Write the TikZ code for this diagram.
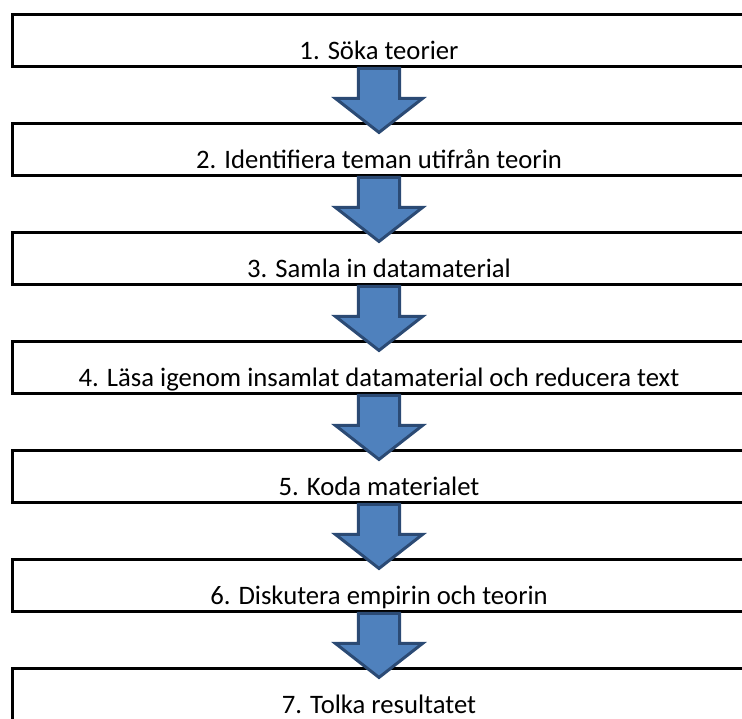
\documentclass[tikz,border=0pt]{standalone}
\usepackage{fontspec}
\setmainfont{Carlito}
\usetikzlibrary{positioning,calc}
\definecolor{arrowfill}{HTML}{4F81BD}
\definecolor{arrowline}{HTML}{2B4A74}
\tikzset{
  stepbox/.style={draw=black, line width=2.25pt, fill=white, inner sep=0pt,
    minimum width=550.5pt, text height=33.4pt, text depth=5.6pt,
    font=\fontsize{20pt}{24pt}\selectfont},
  downarrow/.style={draw=arrowline, fill=arrowfill, line width=2.25pt, line join=miter}
}
\newcommand{\steparrow}[1]{%
  \draw[downarrow, xshift=-2.25pt] ($(#1)+(-15.4pt,0)$) -- ++(0,-22.5pt) -- ++(-17.25pt,0)
    -- ($(#1)+(0,-48pt)$) -- ($(#1)+(32.65pt,-22.5pt)$) -- ++(-17.25pt,0)
    -- ($(#1)+(15.4pt,0)$) -- cycle;}
\begin{document}
\begin{tikzpicture}
\useasboundingbox (0,0) rectangle (556.5pt,-538.5pt);
\clip (0,0) rectangle (556.5pt,-538.5pt);
% steps
\node[stepbox] (s1) at (284.25pt,-30.7pt) {1. Söka teorier};
\node[stepbox, below=40.5pt of s1] (s2) {2. Identifiera teman utifrån teorin};
\node[stepbox, below=40.5pt of s2] (s3) {3. Samla in datamaterial};
\node[stepbox, below=40.5pt of s3] (s4) {4. Läsa igenom insamlat datamaterial och reducera text};
\node[stepbox, below=40.5pt of s4] (s5) {5. Koda materialet};
\node[stepbox, below=40.5pt of s5] (s6) {6. Diskutera empirin och teorin};
\node[stepbox, below=40.5pt of s6] (s7) {7. Tolka resultatet};
% arrows
\foreach \i in {1,...,6}{
  \steparrow{s\i.south}
}
\end{tikzpicture}
\end{document}
